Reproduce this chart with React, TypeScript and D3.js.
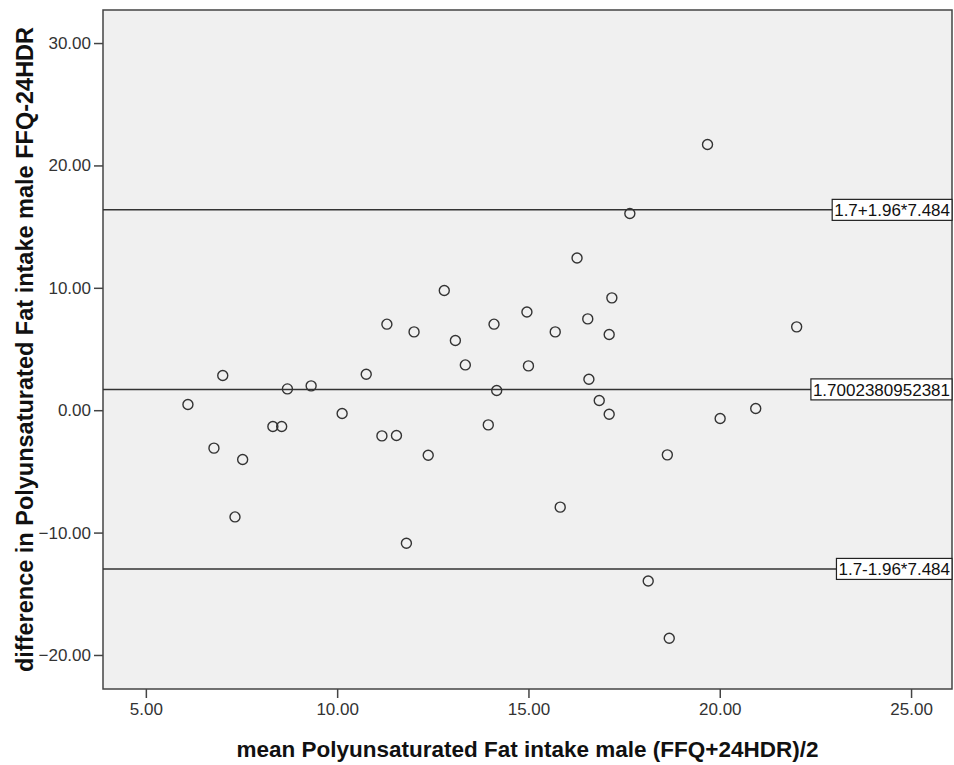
import React, { useEffect, useRef } from "react";
import * as d3 from "d3";

// mean of the two methods (x) and their difference (y), one entry per subject
const meanIntake = [
  6.10, 6.78, 7.01, 7.33, 7.53, 8.32, 8.55, 8.70, 9.32, 10.13, 10.76, 11.17, 11.30, 11.55,
  11.81, 12.01, 12.38, 12.80, 13.09, 13.35, 13.95, 14.10, 14.17, 14.96, 15.00, 15.70, 15.83,
  16.27, 16.55, 16.58, 16.85, 17.11, 17.11, 17.18, 17.65, 18.13, 18.63, 18.68, 19.68, 20.01,
  20.94, 22.01
];
const diffIntake = [
  0.46, -3.10, 2.83, -8.72, -4.03, -1.33, -1.33, 1.74, 1.99, -0.27, 2.94, -2.10, 7.03, -2.07,
  -10.87, 6.40, -3.68, 9.78, 5.69, 3.70, -1.20, 7.03, 1.61, 8.03, 3.62, 6.40, -7.92,
  12.44, 7.46, 2.53, 0.79, 6.18, -0.33, 9.18, 16.07, -13.95, -3.65, -18.63, 21.71, -0.68,
  0.14, 6.81
];

const xTicks = [5, 10, 15, 20, 25];
const yTicks = [-20, -10, 0, 10, 20, 30];

const meanDiff = 1.7002380952381;
const sdDiff = 7.484;
const refValues = [meanDiff + 1.96 * sdDiff, meanDiff, meanDiff - 1.96 * sdDiff];
const refLabels = ["1.7+1.96*7.484", "1.7002380952381", "1.7-1.96*7.484"];

const xTitle = "mean Polyunsaturated Fat intake male (FFQ+24HDR)/2";
const yTitle = "difference in Polyunsaturated Fat intake male FFQ-24HDR";

const font = "'Liberation Sans', Arial, sans-serif";

export default function App() {
  const svgRef = useRef<SVGSVGElement>(null);
  const width = 954;
  const height = 765;
  const left = 103, right = 952, top = 10, bottom = 689;

  useEffect(() => {
    const svg = d3.select(svgRef.current);
    svg.selectAll("*").remove();

    const x = d3.scaleLinear().domain([3.88, 26.07]).range([left, right]);
    const y = d3.scaleLinear().domain([-22.78, 32.7]).range([bottom, top]);

    // plot background and frame
    svg.append("rect")
      .attr("x", left).attr("y", top)
      .attr("width", right - left).attr("height", bottom - top)
      .attr("fill", "#f0f0f0")
      .attr("stroke", "#444").attr("stroke-width", 1.5);

    // axes
    const xAxis = svg.append("g")
      .attr("transform", `translate(0, ${bottom})`)
      .call(d3.axisBottom(x).tickValues(xTicks).tickSize(9).tickPadding(5).tickFormat(d3.format(".2f")));
    const yAxis = svg.append("g")
      .attr("transform", `translate(${left}, 0)`)
      .call(d3.axisLeft(y).tickValues(yTicks).tickSize(9).tickPadding(3).tickFormat(d3.format(".2f")));

    [xAxis, yAxis].forEach(g => {
      g.select(".domain").remove();
      g.selectAll(".tick line").attr("stroke", "#444").attr("stroke-width", 1.5);
      g.selectAll(".tick text")
        .attr("fill", "#333")
        .style("font-family", font)
        .style("font-size", "17px");
    });

    // reference lines
    svg.append("g")
      .selectAll("line")
      .data(refValues)
      .join("line")
      .attr("x1", left).attr("x2", right)
      .attr("y1", d => y(d)).attr("y2", d => y(d))
      .attr("stroke", "#333").attr("stroke-width", 1.5);

    // points
    svg.append("g")
      .selectAll("circle")
      .data(meanIntake)
      .join("circle")
      .attr("cx", d => x(d))
      .attr("cy", (d, i) => y(diffIntake[i]))
      .attr("r", 5)
      .attr("fill", "none")
      .attr("stroke", "#333")
      .attr("stroke-width", 1.4);

    // reference line labels
    refValues.forEach((v, i) => {
      const g = svg.append("g");
      const box = g.append("rect");
      const t = g.append("text")
        .attr("x", right - 2)
        .attr("y", y(v))
        .attr("dy", "0.36em")
        .attr("text-anchor", "end")
        .attr("fill", "#111")
        .style("font-family", font)
        .style("font-size", "17px")
        .text(refLabels[i]);
      const bb = (t.node() as SVGTextElement).getBBox();
      box.attr("x", bb.x - 2).attr("y", y(v) - 10.5)
        .attr("width", right - bb.x + 2).attr("height", 21)
        .attr("fill", "white").attr("stroke", "#222").attr("stroke-width", 1.2);
    });

    // axis titles
    svg.append("text")
      .attr("x", (left + right) / 2)
      .attr("y", 757)
      .attr("text-anchor", "middle")
      .attr("fill", "#111")
      .style("font-family", font)
      .style("font-size", "22.5px")
      .style("font-weight", "bold")
      .text(xTitle);

    svg.append("text")
      .attr("transform", `translate(33, ${(top + bottom) / 2}) rotate(-90)`)
      .attr("text-anchor", "middle")
      .attr("fill", "#111")
      .style("font-family", font)
      .style("font-size", "23.5px")
      .style("font-weight", "bold")
      .text(yTitle);
  }, []);

  return (
    <svg
      ref={svgRef}
      width={width}
      height={height}
      style={{ position: "absolute", left: 0, top: 0, background: "white" }}
    />
  );
}
